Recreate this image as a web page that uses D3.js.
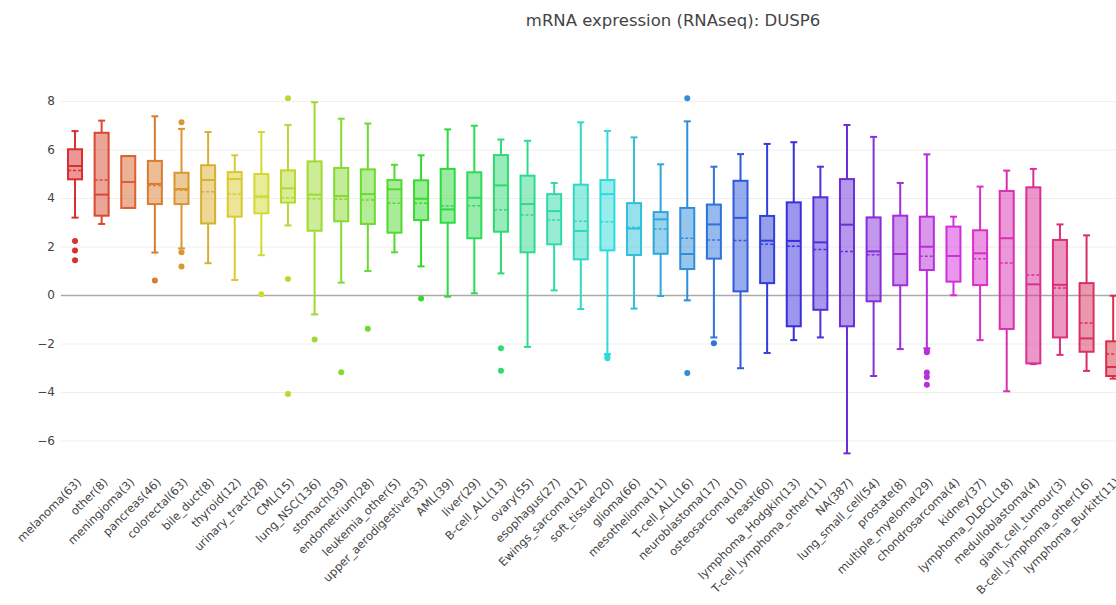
<!DOCTYPE html>
<html>
<head>
<meta charset="utf-8">
<script src="https://cdn.jsdelivr.net/npm/d3@7"></script>
<style>
  body { margin: 0; background: #fff; }
  text { font-family: "DejaVu Sans", Verdana, sans-serif; }
</style>
</head>
<body>
<div id="container"></div>
<script>
/* CONSTANTS AND GLOBALS */
const width = 1116,
  height = 605;

// tissue categories and sample counts
const categories = ["melanoma", "other", "meningioma", "pancreas", "colorectal", "bile_duct", "thyroid",
  "urinary_tract", "CML", "lung_NSC", "stomach", "endometrium", "leukemia_other", "upper_aerodigestive",
  "AML", "liver", "B-cell_ALL", "ovary", "esophagus", "Ewings_sarcoma", "soft_tissue", "glioma",
  "mesothelioma", "T-cell_ALL", "neuroblastoma", "osteosarcoma", "breast", "lymphoma_Hodgkin",
  "T-cell_lymphoma_other", "NA", "lung_small_cell", "prostate", "multiple_myeloma", "chondrosarcoma",
  "kidney", "lymphoma_DLBCL", "medulloblastoma", "giant_cell_tumour", "B-cell_lymphoma_other",
  "lymphoma_Burkitt"];
const counts = [63, 8, 3, 46, 63, 8, 12, 28, 15, 136, 39, 28, 5, 33, 39, 29, 13, 55, 27, 12, 20, 66,
  11, 16, 17, 10, 60, 13, 11, 387, 54, 8, 29, 4, 37, 18, 4, 3, 16, 11];

// box stats
const upperWhisker = [6.76, 7.19, 5.73, 7.37, 6.85, 6.72, 5.76, 6.72, 7.01, 7.95, 7.27, 7.07, 5.37, 5.76,
  6.83, 6.98, 6.41, 6.36, 4.62, 7.12, 6.76, 6.5, 5.39, 7.16, 5.29, 5.81, 6.23, 6.3, 5.29, 7.01, 6.52,
  4.62, 5.8, 3.23, 4.47, 5.13, 5.2, 2.91, 2.46, -0.03];
const q3 = [6.01, 6.69, 5.73, 5.53, 5.04, 5.35, 5.07, 4.99, 5.14, 5.51, 5.24, 5.18, 4.74, 4.73, 5.2,
  5.06, 5.77, 4.92, 4.16, 4.55, 4.74, 3.79, 3.42, 3.59, 3.73, 4.71, 3.26, 3.82, 4.03, 4.78, 3.2, 3.27,
  3.23, 2.82, 2.67, 4.29, 4.44, 2.27, 0.49, -1.91];
const median = [5.32, 4.14, 4.66, 4.58, 4.37, 4.74, 4.78, 4.05, 4.4, 4.14, 4.08, 4.16, 4.36, 3.97, 3.53,
  4.01, 4.52, 3.75, 3.46, 2.64, 4.16, 2.74, 3.12, 1.69, 2.91, 3.18, 2.24, 2.23, 2.17, 2.9, 1.8, 1.69,
  1.99, 1.61, 1.72, 2.34, 0.44, 0.42, -1.79, -2.97];
const mean = [5.13, 4.74, 4.66, 4.52, 4.32, 4.26, 4.16, 4.08, 4.01, 3.97, 3.95, 3.92, 3.78, 3.78, 3.67,
  3.68, 3.52, 3.3, 3.09, 3.04, 3.02, 2.78, 2.72, 2.34, 2.27, 2.25, 2.09, 2.01, 1.88, 1.79, 1.66, 1.69,
  1.6, 1.6, 1.5, 1.32, 0.82, 0.29, -1.15, -2.43];
const q1 = [4.77, 3.27, 3.59, 3.75, 3.75, 2.95, 3.23, 3.37, 3.81, 2.65, 3.04, 2.93, 2.57, 3.09, 2.98,
  2.34, 2.61, 1.76, 2.09, 1.47, 1.84, 1.65, 1.7, 1.07, 1.5, 0.15, 0.49, -1.29, -0.61, -1.29, -0.26, 0.4,
  1.03, 0.55, 0.41, -1.4, -2.82, -1.75, -2.34, -3.34];
const lowerWhisker = [3.19, 2.93, 3.59, 1.75, 1.92, 1.31, 0.62, 1.64, 2.87, -0.8, 0.51, 0.99, 1.76, 1.18,
  -0.07, 0.07, 0.89, -2.14, 0.19, -0.58, -2.43, -0.56, -0.04, -0.22, -1.75, -3.02, -2.39, -1.86, -1.75,
  -6.53, -3.34, -2.23, -2.2, -0.01, -1.86, -3.97, -2.85, -2.47, -3.13, -3.45];
const outliers = [[2.23, 1.84, 1.43], [], [], [0.6], [7.12, 1.76, 1.18], [], [], [0.03], [8.11, 0.66, -4.08],
  [-1.83], [-3.19], [-1.39], [], [-0.14], [], [], [-2.2, -3.12], [], [], [], [-2.52, -2.61], [], [],
  [8.11, -3.22], [-1.99], [], [], [], [], [], [], [], [-2.3, -2.36, -3.2, -3.38, -3.7], [], [], [], [], [],
  [], []];

const yTicks = [-6, -4, -2, 0, 2, 4, 6, 8];

/* DATA TABLE */
const data = categories.map((c, i) => ({
  name: c,
  label: `${c}(${counts[i]})`,
  hi: upperWhisker[i], q3: q3[i], med: median[i], mean: mean[i], q1: q1[i], lo: lowerWhisker[i],
  out: outliers[i],
  color: d3.hsl(i * 360 / categories.length, 0.7, 0.52).toString()
}));

/* SCALES */
const xScale = d3.scaleBand()
  .domain(categories)
  .range([61.7, 61.7 + 40 * 26.62])
  .padding(0);

const yScale = d3.scaleLinear()
  .domain([-6, 8])
  .range([440.5, 101]);

const plotLeft = 61;
const boxW = 14, capW = 7;

/* SVG */
const svg = d3.select("#container")
  .append("svg")
  .attr("width", width)
  .attr("height", height);

svg.append("text")
  .attr("x", 673)
  .attr("y", 26)
  .attr("text-anchor", "middle")
  .attr("font-size", "16.5px")
  .attr("fill", "#444")
  .text("mRNA expression (RNAseq): DUSP6");

// grid + y axis
const yAxis = d3.axisLeft(yScale)
  .tickValues(yTicks)
  .tickSize(-(width - plotLeft))
  .tickFormat(d => d < 0 ? "\u2212" + Math.abs(d) : d);

const yAxisGroup = svg.append("g")
  .attr("transform", `translate(${plotLeft}, 0)`)
  .call(yAxis);
yAxisGroup.select(".domain").remove();
yAxisGroup.selectAll(".tick line")
  .attr("stroke", d => d === 0 ? "#aaa" : "#eee")
  .attr("stroke-width", d => d === 0 ? 1.5 : 1);
yAxisGroup.selectAll(".tick text")
  .attr("x", -6)
  .attr("fill", "#444")
  .attr("font-size", "12px");

// x labels (last one runs past the edge, as in the original)
const xAxisGroup = svg.append("g");
xAxisGroup.selectAll("text")
  .data(data)
  .join("text")
  .attr("transform", d => `translate(${xScale(d.name) + xScale.bandwidth() / 2 + 4}, 480) rotate(-45)`)
  .attr("text-anchor", "end")
  .attr("dy", "0.35em")
  .attr("font-size", "11.5px")
  .attr("fill", "#444")
  .text(d => d.label);

/* DRAW BOXES */
const boxes = svg.append("g")
  .selectAll("g")
  .data(data)
  .join("g")
  .attr("transform", d => `translate(${xScale(d.name) + xScale.bandwidth() / 2}, 0)`);

// whiskers
boxes.append("line")
  .attr("y1", d => yScale(d.hi)).attr("y2", d => yScale(d.q3))
  .attr("stroke", d => d.color).attr("stroke-width", 2);
boxes.append("line")
  .attr("y1", d => yScale(d.q1)).attr("y2", d => yScale(d.lo))
  .attr("stroke", d => d.color).attr("stroke-width", 2);
boxes.append("line")
  .attr("x1", -capW / 2).attr("x2", capW / 2)
  .attr("y1", d => yScale(d.hi)).attr("y2", d => yScale(d.hi))
  .attr("stroke", d => d.color).attr("stroke-width", 2);
boxes.append("line")
  .attr("x1", -capW / 2).attr("x2", capW / 2)
  .attr("y1", d => yScale(d.lo)).attr("y2", d => yScale(d.lo))
  .attr("stroke", d => d.color).attr("stroke-width", 2);

// box
boxes.append("rect")
  .attr("x", -boxW / 2)
  .attr("width", boxW)
  .attr("y", d => yScale(d.q3))
  .attr("height", d => Math.max(0, yScale(d.q1) - yScale(d.q3)))
  .attr("fill", d => d.color)
  .attr("fill-opacity", 0.5)
  .attr("stroke", d => d.color)
  .attr("stroke-width", 2);

// median
boxes.append("line")
  .attr("x1", -boxW / 2).attr("x2", boxW / 2)
  .attr("y1", d => yScale(d.med)).attr("y2", d => yScale(d.med))
  .attr("stroke", d => d.color).attr("stroke-width", 2);

// mean (dashed)
boxes.append("line")
  .attr("x1", -boxW / 2).attr("x2", boxW / 2)
  .attr("y1", d => yScale(d.mean)).attr("y2", d => yScale(d.mean))
  .attr("stroke", d => d.color).attr("stroke-width", 1.5)
  .attr("stroke-dasharray", "3,2");

// outliers
boxes.selectAll("circle")
  .data(d => d.out.map(v => ({ v, color: d.color })))
  .join("circle")
  .attr("cy", d => yScale(d.v))
  .attr("r", 3)
  .attr("fill", d => d.color);
</script>
</body>
</html>
